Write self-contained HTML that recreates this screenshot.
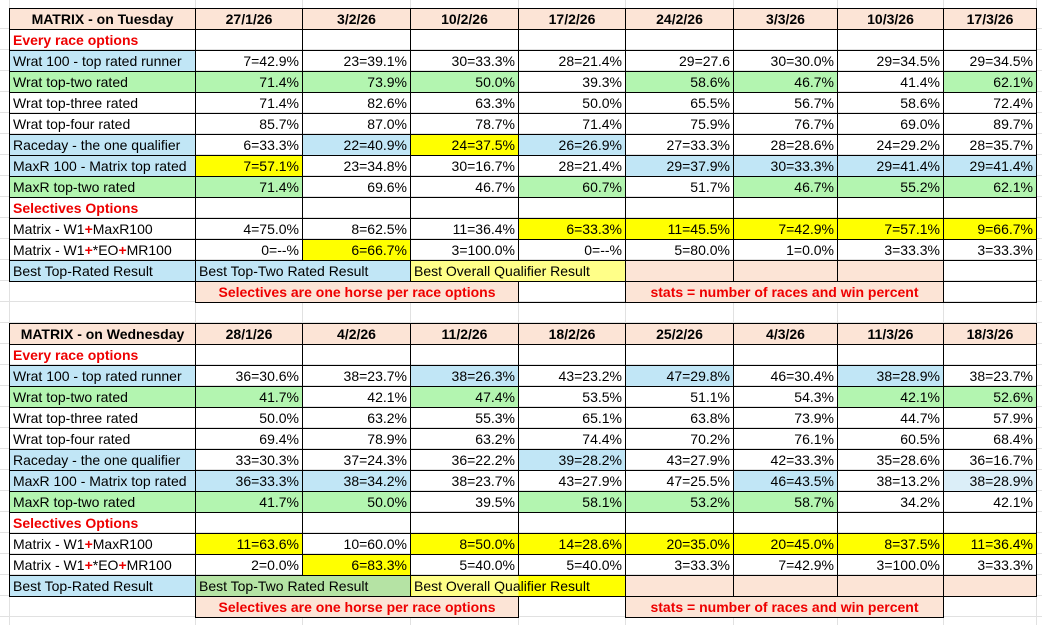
<!DOCTYPE html>
<html><head><meta charset="utf-8">
<style>
html,body{margin:0;padding:0;}
body{width:1042px;height:625px;position:relative;overflow:hidden;background:#fff;
font-family:"Liberation Sans",Arial,sans-serif;font-size:14px;color:#000;
background-image:
repeating-linear-gradient(to bottom, transparent 0, transparent 20px, #e1e1e1 20px, #e1e1e1 21px);
background-position:0 8px;}
.vl{position:absolute;top:0;height:625px;width:1px;background:#e1e1e1;}
table{position:absolute;left:9px;border-collapse:collapse;table-layout:fixed;}
td{height:20px;padding:0 3px;border:1px solid #000;white-space:nowrap;overflow:visible;text-align:right;line-height:20px;}
td.l{text-align:left;}
th{height:20px;border:1px solid #000;background:#fce4d6;font-weight:bold;font-size:14px;text-align:center;line-height:20px;padding:0;}
.B{background:#c1e6f6;}.G{background:#b3f5b0;}.Y{background:#ffff00;}.P{background:#fce4d6;}
.PY{background:#ffff88;}.LB{background:#dbeef8;}.GL{background:#b5e3a4;}
.red{color:#ee0000;font-weight:bold;text-align:left;}
.r{color:#ee0000;font-weight:bold;}
.ctr{text-align:center;color:#ee0000;font-weight:bold;}
.nb{border:none;}
</style></head><body>
<div class="vl" style="left:9px"></div><div class="vl" style="left:195px"></div><div class="vl" style="left:302px"></div>
<div class="vl" style="left:410px"></div><div class="vl" style="left:518px"></div><div class="vl" style="left:625px"></div>
<div class="vl" style="left:733px"></div><div class="vl" style="left:837px"></div><div class="vl" style="left:943px"></div>
<div class="vl" style="left:1036px"></div>

<table style="top:8px">
<colgroup><col style="width:186px"><col style="width:107px"><col style="width:108px"><col style="width:108px"><col style="width:107px"><col style="width:108px"><col style="width:104px"><col style="width:106px"><col style="width:93px"></colgroup>
<tr><th>MATRIX - on Tuesday</th><th>27/1/26</th><th>3/2/26</th><th>10/2/26</th><th>17/2/26</th><th>24/2/26</th><th>3/3/26</th><th>10/3/26</th><th>17/3/26</th></tr>
<tr><td class="red">Every race options</td><td></td><td></td><td></td><td></td><td></td><td></td><td></td><td></td></tr>
<tr><td class="l B">Wrat 100 - top rated runner</td><td>7=42.9%</td><td>23=39.1%</td><td>30=33.3%</td><td>28=21.4%</td><td>29=27.6</td><td>30=30.0%</td><td>29=34.5%</td><td>29=34.5%</td></tr>
<tr><td class="l G">Wrat top-two rated</td><td class="G">71.4%</td><td class="G">73.9%</td><td class="G">50.0%</td><td>39.3%</td><td class="G">58.6%</td><td class="G">46.7%</td><td>41.4%</td><td class="G">62.1%</td></tr>
<tr><td class="l">Wrat top-three rated</td><td>71.4%</td><td>82.6%</td><td>63.3%</td><td>50.0%</td><td>65.5%</td><td>56.7%</td><td>58.6%</td><td>72.4%</td></tr>
<tr><td class="l">Wrat top-four rated</td><td>85.7%</td><td>87.0%</td><td>78.7%</td><td>71.4%</td><td>75.9%</td><td>76.7%</td><td>69.0%</td><td>89.7%</td></tr>
<tr><td class="l B">Raceday - the one qualifier</td><td>6=33.3%</td><td class="B">22=40.9%</td><td class="Y">24=37.5%</td><td class="B">26=26.9%</td><td>27=33.3%</td><td>28=28.6%</td><td>24=29.2%</td><td>28=35.7%</td></tr>
<tr><td class="l B">MaxR 100 - Matrix top rated</td><td class="Y">7=57.1%</td><td>23=34.8%</td><td>30=16.7%</td><td>28=21.4%</td><td class="B">29=37.9%</td><td class="B">30=33.3%</td><td class="B">29=41.4%</td><td class="B">29=41.4%</td></tr>
<tr><td class="l G">MaxR top-two rated</td><td class="G">71.4%</td><td>69.6%</td><td>46.7%</td><td class="G">60.7%</td><td>51.7%</td><td class="G">46.7%</td><td class="G">55.2%</td><td class="G">62.1%</td></tr>
<tr><td class="red">Selectives Options</td><td></td><td></td><td></td><td></td><td></td><td></td><td></td><td></td></tr>
<tr><td class="l">Matrix - W1<span class="r">+</span>MaxR100</td><td>4=75.0%</td><td>8=62.5%</td><td>11=36.4%</td><td class="Y">6=33.3%</td><td class="Y">11=45.5%</td><td class="Y">7=42.9%</td><td class="Y">7=57.1%</td><td class="Y">9=66.7%</td></tr>
<tr><td class="l">Matrix - W1<span class="r">+</span>*EO<span class="r">+</span>MR100</td><td>0=--%</td><td class="Y">6=66.7%</td><td>3=100.0%</td><td>0=--%</td><td>5=80.0%</td><td>1=0.0%</td><td>3=33.3%</td><td>3=33.3%</td></tr>
<tr><td class="l B">Best Top-Rated Result</td><td class="l B" colspan="2">Best Top-Two Rated Result</td><td class="l PY" colspan="2">Best Overall Qualifier Result</td><td class="P"></td><td class="P"></td><td class="P"></td><td></td></tr>
<tr><td class="nb"></td><td class="ctr P" colspan="3">Selectives are one horse per race options</td><td></td><td class="ctr P" colspan="3">stats = number of races and win percent</td><td></td></tr>
</table>

<table style="top:323px">
<colgroup><col style="width:186px"><col style="width:107px"><col style="width:108px"><col style="width:108px"><col style="width:107px"><col style="width:108px"><col style="width:104px"><col style="width:106px"><col style="width:93px"></colgroup>
<tr><th>MATRIX - on Wednesday</th><th>28/1/26</th><th>4/2/26</th><th>11/2/26</th><th>18/2/26</th><th>25/2/26</th><th>4/3/26</th><th>11/3/26</th><th>18/3/26</th></tr>
<tr><td class="red">Every race options</td><td></td><td></td><td></td><td></td><td></td><td></td><td></td><td></td></tr>
<tr><td class="l B">Wrat 100 - top rated runner</td><td>36=30.6%</td><td>38=23.7%</td><td class="B">38=26.3%</td><td>43=23.2%</td><td class="B">47=29.8%</td><td>46=30.4%</td><td class="B">38=28.9%</td><td>38=23.7%</td></tr>
<tr><td class="l G">Wrat top-two rated</td><td class="G">41.7%</td><td>42.1%</td><td class="G">47.4%</td><td>53.5%</td><td>51.1%</td><td>54.3%</td><td class="G">42.1%</td><td class="G">52.6%</td></tr>
<tr><td class="l">Wrat top-three rated</td><td>50.0%</td><td>63.2%</td><td>55.3%</td><td>65.1%</td><td>63.8%</td><td>73.9%</td><td>44.7%</td><td>57.9%</td></tr>
<tr><td class="l">Wrat top-four rated</td><td>69.4%</td><td>78.9%</td><td>63.2%</td><td>74.4%</td><td>70.2%</td><td>76.1%</td><td>60.5%</td><td>68.4%</td></tr>
<tr><td class="l B">Raceday - the one qualifier</td><td>33=30.3%</td><td>37=24.3%</td><td>36=22.2%</td><td class="B">39=28.2%</td><td>43=27.9%</td><td>42=33.3%</td><td>35=28.6%</td><td>36=16.7%</td></tr>
<tr><td class="l B">MaxR 100 - Matrix top rated</td><td class="B">36=33.3%</td><td class="B">38=34.2%</td><td>38=23.7%</td><td>43=27.9%</td><td>47=25.5%</td><td class="B">46=43.5%</td><td>38=13.2%</td><td class="LB">38=28.9%</td></tr>
<tr><td class="l G">MaxR top-two rated</td><td class="G">41.7%</td><td class="G">50.0%</td><td>39.5%</td><td class="G">58.1%</td><td class="G">53.2%</td><td class="G">58.7%</td><td>34.2%</td><td>42.1%</td></tr>
<tr><td class="red">Selectives Options</td><td></td><td></td><td></td><td></td><td></td><td></td><td></td><td></td></tr>
<tr><td class="l">Matrix - W1<span class="r">+</span>MaxR100</td><td class="Y">11=63.6%</td><td>10=60.0%</td><td class="Y">8=50.0%</td><td class="Y">14=28.6%</td><td class="Y">20=35.0%</td><td class="Y">20=45.0%</td><td class="Y">8=37.5%</td><td class="Y">11=36.4%</td></tr>
<tr><td class="l">Matrix - W1<span class="r">+</span>*EO<span class="r">+</span>MR100</td><td>2=0.0%</td><td class="Y">6=83.3%</td><td>5=40.0%</td><td>5=40.0%</td><td>3=33.3%</td><td>7=42.9%</td><td>3=100.0%</td><td>3=33.3%</td></tr>
<tr><td class="l B">Best Top-Rated Result</td><td class="l GL" colspan="2">Best Top-Two Rated Result</td><td class="l" colspan="2" style="background:linear-gradient(to right,#ffff88 0,#ffff88 50%,#ffff00 50%,#ffff00 100%)">Best Overall Qualifier Result</td><td class="P"></td><td class="P"></td><td class="P"></td><td class="P"></td></tr>
<tr><td class="nb"></td><td class="ctr P" colspan="3">Selectives are one horse per race options</td><td class="nb"></td><td class="ctr P" colspan="3">stats = number of races and win percent</td><td class="nb"></td></tr>
</table>
</body></html>
